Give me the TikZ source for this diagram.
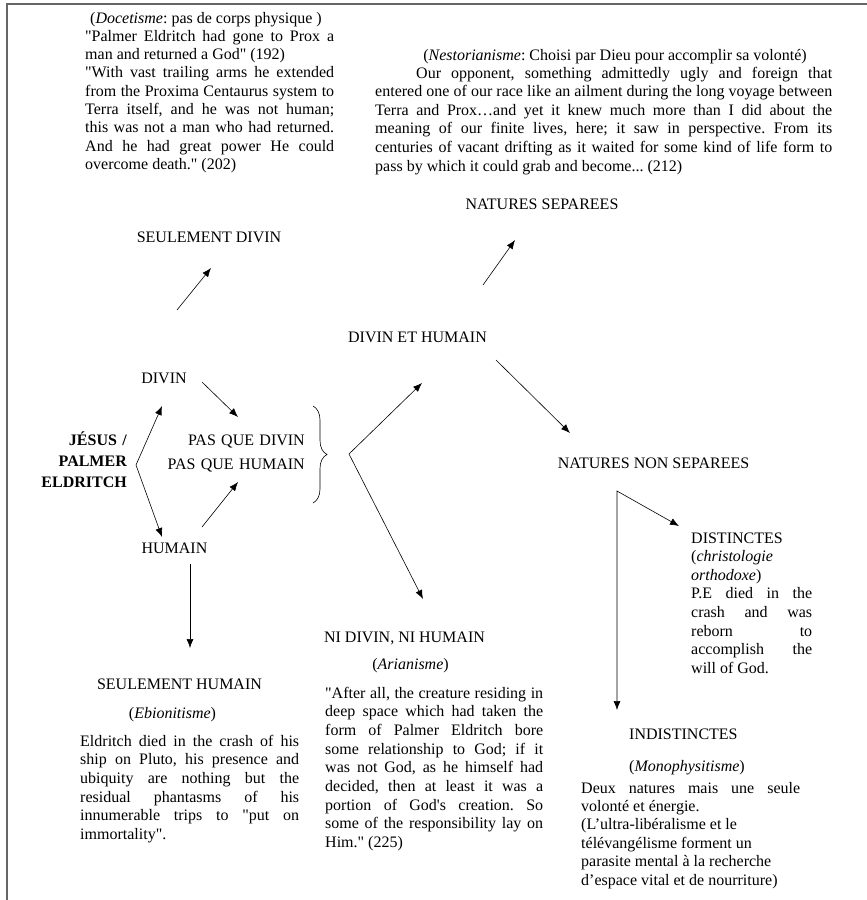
\documentclass[tikz,border=0pt]{standalone}
\usepackage{fontspec}
\setmainfont{Liberation Serif}
\usetikzlibrary{arrows.meta,decorations.pathreplacing}
\frenchspacing
\newcommand{\gq}{\textquotedbl}

\begin{document}
\begin{tikzpicture}[x=1pt,y=-1pt,
   >={Latex[length=9pt,width=7pt]},
   every node/.style={inner sep=0pt,font=\fontsize{16}{18.4}\selectfont},
   titre/.style={anchor=base},
   bloc/.style={anchor=base west,align=justify},
   fleche/.style={->,line width=0.6pt},
   fourche/.style={<->,line width=0.6pt},
   accolade/.style={decorate,decoration={brace,amplitude=14pt},line width=0.6pt},
   cadre/.style={line width=1.2pt,black!60}]
\useasboundingbox (0,0) rectangle (867,900);
\draw[cadre] (7,900) -- (7,4) -- (867,4);

% citations du haut
\node[bloc,text width=249pt,font=\fontsize{16}{18.3}\selectfont] (doce) at (85,23) {\hspace*{5pt}(\textit{Docetisme}: pas de corps physique )\\\gq Palmer Eldritch had gone to Prox a\linebreak man and returned a God\gq{} (192)\\\gq With vast trailing arms he extended\linebreak from the Proxima Centaurus system to\linebreak Terra itself, and he was not human;\linebreak this was not a man who had returned.\linebreak And he had great power He could\linebreak overcome death.\gq{} (202)};
\node[titre] (nesttitre) at (615,60) {(\textit{Nestorianisme}: Choisi par Dieu pour accomplir sa volonté)};
\node[bloc,text width=457pt,font=\fontsize{16}{18.6}\selectfont] (nest) at (375,78) {\hspace*{41pt}Our opponent, something admittedly ugly and foreign that\linebreak entered one of our race like an ailment during the long voyage between\linebreak Terra and Prox…and yet it knew much more than I did about the\linebreak meaning of our finite lives, here; it saw in perspective. From its\linebreak centuries of vacant drifting as it waited for some kind of life form to\linebreak pass by which it could grab and become... (212)};

% schema
\node[titre] (sdivin) at (209,242) {SEULEMENT DIVIN};
\node[titre] (natsep) at (542,209) {NATURES SEPAREES};
\node[titre] (dieh) at (417.5,342) {DIVIN ET HUMAIN};
\node[titre] (natnon) at (653.5,468) {NATURES NON SEPAREES};
\node[titre] (divin) at (164,383) {DIVIN};
\node[titre] (humain) at (174.5,553) {HUMAIN};
\node[anchor=base east,align=right,text width=100pt,font=\bfseries\fontsize{16}{21}\selectfont] (jesus) at (127,445) {JÉSUS /\\PALMER\\ELDRITCH};
\node[anchor=base east,align=right,text width=150pt,font=\fontsize{16}{24}\selectfont] (pasque) at (305,445) {PAS QUE DIVIN\\PAS QUE HUMAIN};

\coordinate (sd-pied) at (177,310);  \coordinate (sd-pointe) at (211,268);
\coordinate (ns-pied) at (483,285);  \coordinate (ns-pointe) at (515,240);
\coordinate (dv-pied) at (202,382);  \coordinate (dv-pointe) at (238,417);
\coordinate (hm-pied) at (202,527);  \coordinate (hm-pointe) at (238,482);
\coordinate (js-sommet) at (136,465); \coordinate (js-haut) at (162,406); \coordinate (js-bas) at (162,537);
\coordinate (sh-pied) at (190,564);  \coordinate (sh-pointe) at (190,648);
\coordinate (acc-sommet) at (349,454); \coordinate (acc-haut) at (422,383); \coordinate (acc-bas) at (423,599);
\coordinate (nn-pied) at (496,360);  \coordinate (nn-pointe) at (570,433);
\coordinate (nat-coin) at (617,491); \coordinate (nat-dist) at (679,526); \coordinate (nat-indist) at (617,710);
\coordinate (br-haut) at (313,406);  \coordinate (br-bas) at (313,503);

\draw[fleche] (sd-pied) -- (sd-pointe);
\draw[fleche] (ns-pied) -- (ns-pointe);
\draw[fleche] (dv-pied) -- (dv-pointe);
\draw[fleche] (hm-pied) -- (hm-pointe);
\draw[fourche] (js-haut) -- (js-sommet) -- (js-bas);
\draw[fleche] (sh-pied) -- (sh-pointe);
\draw[accolade] (br-haut) -- (br-bas);
\draw[fourche] (acc-haut) -- (acc-sommet) -- (acc-bas);
\draw[fleche] (nn-pied) -- (nn-pointe);
\draw[fourche] (nat-dist) -- (nat-coin) -- (nat-indist);

% branches du bas
\node[titre] (shumain) at (179.5,689) {SEULEMENT HUMAIN};
\node[titre] (ebio) at (172.5,718) {(\textit{Ebionitisme})};
\node[bloc,text width=219pt,font=\fontsize{16}{18.7}\selectfont] (ebiotxt) at (80,746) {Eldritch died in the crash of his\linebreak ship on Pluto, his presence and\linebreak ubiquity are nothing but the\linebreak residual phantasms of his\linebreak innumerable trips to \gq put on\linebreak immortality\gq.};

\node[titre] (nidivin) at (404.5,642) {NI DIVIN, NI HUMAIN};
\node[titre] (arian) at (410.5,669) {(\textit{Arianisme})};
\node[bloc,text width=218pt,font=\fontsize{16}{18.7}\selectfont] (ariantxt) at (325,698) {\gq After all, the creature residing in\linebreak deep space which had taken the\linebreak form of Palmer Eldritch bore\linebreak some relationship to God; if it\linebreak was not God, as he himself had\linebreak decided, then at least it was a\linebreak portion of God\textquotesingle s creation. So\linebreak some of the responsibility lay on\linebreak Him.\gq{} (225)};

\node[bloc,text width=121pt,font=\fontsize{16}{18.6}\selectfont] (dist) at (691,543) {DISTINCTES\\(\textit{christologie}\\\textit{orthodoxe})\\P.E died in the\linebreak crash and was\linebreak reborn to\linebreak accomplish the\linebreak will of God.};
\node[anchor=base west] (indist) at (629,739) {INDISTINCTES};
\node[anchor=base west] (mono) at (629,771) {(\textit{Monophysitisme})};
\node[bloc,text width=219pt] (monotxt) at (581,793) {Deux natures mais une seule\linebreak volonté et énergie.\\(L’ultra-libéralisme et le\\télévangélisme forment un\\parasite mental à la recherche\\d’espace vital et de nourriture)};
\end{tikzpicture}
\end{document}
